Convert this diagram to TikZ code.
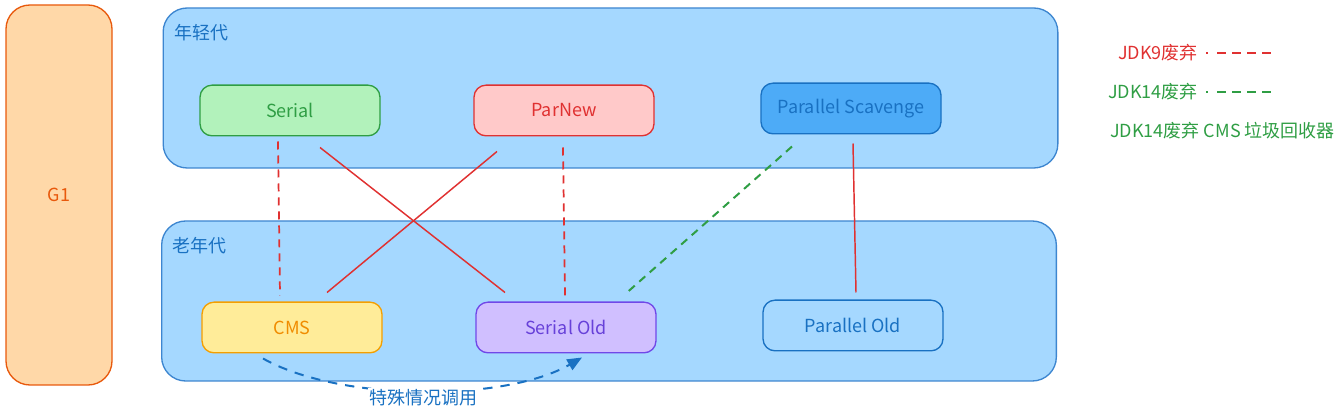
\documentclass[tikz,border=0pt]{standalone}
\usepackage{fontspec}
\setmainfont{Noto Sans CJK SC}
\usetikzlibrary{arrows.meta}
\definecolor{genfill}{HTML}{A5D8FF}
\definecolor{genline}{HTML}{3D86D0}
\definecolor{gentext}{HTML}{1971C2}
\definecolor{g1fill}{HTML}{FFD8A8}
\definecolor{g1line}{HTML}{E8590C}
\definecolor{serialfill}{HTML}{B2F2BB}
\definecolor{jdkgreen}{HTML}{2F9E44}
\definecolor{parnewfill}{HTML}{FFC9C9}
\definecolor{jdkred}{HTML}{E03131}
\definecolor{scavfill}{HTML}{4DABF7}
\definecolor{cmsfill}{HTML}{FFEC99}
\definecolor{cmsline}{HTML}{F59F00}
\definecolor{cmstext}{HTML}{F08C00}
\definecolor{oldfill}{HTML}{D0BFFF}
\definecolor{oldline}{HTML}{7048E8}
\definecolor{oldtext}{HTML}{6741D9}
\begin{document}
\begin{tikzpicture}[x=0.75pt, y=-0.75pt,
    every node/.style={font=\fontsize{13.5}{16}\selectfont},
    gcbox/.style={draw, line width=1pt, rounded corners=9pt, minimum width=135pt, minimum height=38pt},
    genbox/.style={draw=genline, fill=genfill, line width=1pt, rounded corners=18pt, minimum width=671pt, minimum height=120pt},
    genlabel/.style={anchor=west, text=gentext, inner sep=0pt},
    removed/.style={jdkred, line width=1.1pt},
    dropped9/.style={jdkred, line width=1.3pt, dash pattern=on 6pt off 4.5pt},
    dropped14/.style={jdkgreen, line width=1.5pt, dash pattern=on 6pt off 4.5pt},
    legdash/.style={line width=1.5pt, dash pattern=on 1.5pt off 7pt on 6.75pt off 4.5pt on 6.75pt off 4.5pt on 6.75pt off 4.5pt on 6.75pt off 20pt}]
    \useasboundingbox (0,0) rectangle (1339,409);
    % G1 and the two generations
    \node[gcbox, draw=g1line, fill=g1fill, text=g1line, minimum width=79.5pt, minimum height=285pt, rounded corners=18pt] (g1) at (59,195) {G1};
    \node[genbox] (young) at (610.5,88) {};
    \node[genlabel] (younglabel) at (174,33) {年轻代};
    \node[genbox] (old) at (609,301) {};
    \node[genlabel] (oldlabel) at (172,246) {老年代};
    % collectors
    \node[gcbox, draw=jdkgreen, fill=serialfill, text=jdkgreen] (serial) at (290,110.5) {Serial};
    \node[gcbox, draw=jdkred, fill=parnewfill, text=jdkred] (parnew) at (564,110.5) {ParNew};
    \node[gcbox, draw=gentext, fill=scavfill, text=gentext] (scavenge) at (851,108.5) {Parallel Scavenge};
    \node[gcbox, draw=cmsline, fill=cmsfill, text=cmstext] (cms) at (292,327.5) {CMS};
    \node[gcbox, draw=oldline, fill=oldfill, text=oldtext] (serialold) at (566,327.5) {Serial Old};
    \node[gcbox, draw=gentext, fill=genfill, text=gentext] (parold) at (853,325.5) {Parallel Old};
    % pairings
    \draw[dropped9] ([xshift=-9pt, yshift=-3.75pt]serial.south) -- ([xshift=-9pt, yshift=4.5pt]cms.north);
    \draw[removed] ([xshift=22.5pt, yshift=-8.25pt]serial.south) -- ([xshift=-45.75pt, yshift=6.75pt]serialold.north);
    \draw[removed] ([xshift=-50.25pt, yshift=-11.25pt]parnew.south) -- ([xshift=26.25pt, yshift=6.75pt]cms.north);
    \draw[dropped9] ([xshift=-0.75pt, yshift=-8.25pt]parnew.south) -- ([xshift=-0.75pt, yshift=4.5pt]serialold.north);
    \draw[dropped14] ([xshift=-44.25pt, yshift=-9pt]scavenge.south) -- ([xshift=45.75pt, yshift=6.75pt]serialold.north);
    \draw[removed] ([xshift=1.5pt, yshift=-6.75pt]scavenge.south) -- ([xshift=2.25pt, yshift=5.25pt]parold.north);
    % fallback
    \draw[gentext, line width=1.5pt, dash pattern=on 7pt off 6pt, -{Triangle[length=11pt, width=9pt]}] ([xshift=-21.75pt, yshift=-3.75pt]cms.south) .. controls (340,402) and (505,402) .. ([xshift=12pt, yshift=-3pt]serialold.south);
    \node[fill=white, text=gentext, inner sep=1pt] (calllabel) at (423,398) {特殊情况调用};
    % legend
    \node[anchor=east, text=jdkred, inner sep=0pt] (leg9) at (1198,53) {JDK9废弃};
    \coordinate (leg9end) at (1273,53);
    \draw[legdash, jdkred] ([xshift=6pt]leg9.east) -- (leg9end);
    \node[anchor=east, text=jdkgreen, inner sep=0pt] (leg14) at (1198,92) {JDK14废弃};
    \coordinate (leg14end) at (1273,92);
    \draw[legdash, jdkgreen] ([xshift=6pt]leg14.east) -- (leg14end);
    \node[anchor=west, text=jdkgreen, inner sep=0pt] (legcms) at (1110,131) {JDK14废弃 CMS 垃圾回收器};
\end{tikzpicture}
\end{document}
